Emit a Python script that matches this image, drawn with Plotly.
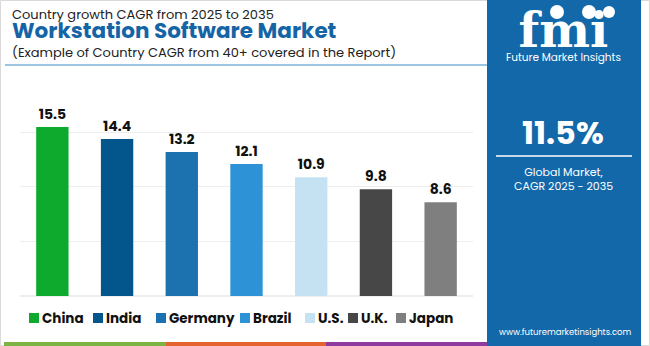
import plotly.graph_objects as go

countries = ["China", "India", "Germany", "Brazil", "U.S.", "U.K.", "Japan"]
cagr = [15.5, 14.4, 13.2, 12.1, 10.9, 9.8, 8.6]
colors = ["#0DAA2E", "#03568C", "#1B72AE", "#2E93D6", "#C5E2F3", "#474747", "#7F7F7F"]
y_ticks = [0, 5, 10, 15]

W, H = 650, 346
L, R, T, B = 20, 177, 106, 50
PW, PH = W - L - R, H - T - B

def px(x):
    return (x - L) / PW

def py(y):
    return (H - B - y) / PH

FONT = "Poppins, Inter, 'Open Sans', sans-serif"

fig = go.Figure()
for c, v, col in zip(countries, cagr, colors):
    fig.add_trace(go.Bar(
        x=[c], y=[v], name=c, marker=dict(color=col, line=dict(width=0)),
        width=0.5, text=[f"{v:.1f}"], textposition="outside",
        textfont=dict(family=FONT, size=14, color="#111111", weight="bold"),
        cliponaxis=False, showlegend=False,
    ))

shapes = []
annotations = []

# outer border
shapes.append(dict(type="rect", xref="paper", yref="paper", x0=px(0.5), x1=px(W - 0.5),
                   y0=py(H - 0.5), y1=py(0.5), line=dict(color="#D9D9D9", width=1), layer="below"))
# blue side panel
shapes.append(dict(type="rect", xref="paper", yref="paper", x0=px(487), x1=px(641),
                   y0=py(346), y1=py(0), fillcolor="#1268A9", line=dict(width=0), layer="below"))
# divider line in panel
shapes.append(dict(type="line", xref="paper", yref="paper", x0=px(496), x1=px(632),
                   y0=py(156), y1=py(156), line=dict(color="#FFFFFF", width=1.5)))
# title underline
shapes.append(dict(type="line", xref="paper", yref="paper", x0=px(5), x1=px(487),
                   y0=py(65), y1=py(65), line=dict(color="#3C8DC8", width=1)))
# bottom stripes
for x0, x1, col in [(4, 166, "#7CB342"), (166, 326, "#E4632E"), (326, 487, "#8E3A9E")]:
    shapes.append(dict(type="rect", xref="paper", yref="paper", x0=px(x0), x1=px(x1),
                       y0=py(346), y1=py(342), fillcolor=col, line=dict(width=0)))
# logo globes
for cx, r in [(557, 7), (589, 7), (609, 6)]:
    shapes.append(dict(type="circle", xref="paper", yref="paper", x0=px(cx - r), x1=px(cx + r),
                       y0=py(12 + r), y1=py(12 - r), fillcolor="#FFFFFF", line=dict(width=0)))

def txt(x, y, s, size, color, weight="normal", anchor="left", family=FONT, yanchor="middle"):
    annotations.append(dict(x=px(x), y=py(y), xref="paper", yref="paper", text=s, showarrow=False,
                            xanchor=anchor, yanchor=yanchor, borderpad=0, align=anchor if anchor != "middle" else "center",
                            font=dict(family=family, size=size, color=color, weight=weight)))

title_html = (
    "<span style='font-size:13px'>Country growth CAGR from 2025 to 2035</span>"
    "<br><span style='font-size:21.5px;color:#1565A6'><b>Workstation Software Market</b></span>"
    "<br><span style='font-size:13px'>(Example of Country CAGR from 40+ covered in the Report)</span>"
)
txt(11, 34, title_html, 14.6, "#222222")

# panel texts
logo_html = (
    "<span style=\"font-size:48px;font-family:'DejaVu Serif', serif\"><b>fmi</b></span>"
    "<br>Future Market Insights"
)
txt(563, 34, logo_html, 10.5, "#FFFFFF", anchor="center")
txt(563, 132, "11.5%", 32, "#FFFFFF", "bold", "center")
txt(563, 179, "Global Market,<br>CAGR 2025 - 2035", 11, "#FFFFFF", anchor="center")
txt(565, 332, "www.futuremarketinsights.com", 8.5, "#FFFFFF", anchor="center")

# legend (built from the data arrays)
legend_x = [29, 93, 156, 240, 305, 348, 396]
for c, col, lx in zip(countries, colors, legend_x):
    shapes.append(dict(type="rect", xref="paper", yref="paper", x0=px(lx), x1=px(lx + 10),
                       y0=py(323), y1=py(313), fillcolor=col, line=dict(width=0)))
    txt(lx + 12, 318, c, 13.5, "#111111", "bold")

fig.update_layout(
    width=W, height=H, margin=dict(l=L, r=R, t=T, b=B),
    paper_bgcolor="#FFFFFF", plot_bgcolor="#FFFFFF",
    barmode="overlay", bargap=0.5,
    xaxis=dict(showticklabels=False, showgrid=False, zeroline=False, showline=False, ticks=""),
    yaxis=dict(range=[0, 17.43], tickvals=y_ticks, showticklabels=False, showgrid=True,
               gridcolor="#EEEEEE", gridwidth=1, zeroline=True, zerolinecolor="#EEEEEE",
               showline=False, ticks=""),
    shapes=shapes, annotations=annotations, showlegend=False,
    font=dict(family=FONT),
)
fig.write_html("out.html")
